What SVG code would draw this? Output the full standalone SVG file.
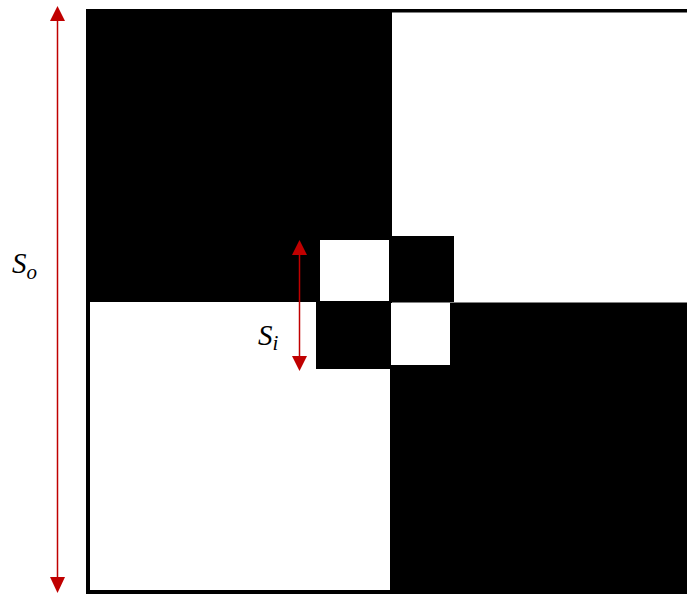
<svg xmlns="http://www.w3.org/2000/svg" width="687" height="595" viewBox="0 0 687 595">
<defs>
<style>
.blk{fill:#000}
.wht{fill:#fff}
.arr{stroke:#c00000;stroke-width:1.5;fill:none}
.head{fill:#c00000}
.lbl{font-family:"Liberation Serif","DejaVu Serif",serif;font-style:italic;fill:#000}
</style>
</defs>
<rect x="0" y="0" width="687" height="595" fill="#fff"/>
<g id="board">
<!-- outer frame -->
<rect x="86" y="9" width="601" height="585" class="blk"/>
<rect id="top-right" x="392" y="12.5" width="295" height="290" class="wht"/>
<rect id="bottom-left" x="90" y="302" width="300" height="288" class="wht"/>
<!-- inner checks -->
<rect id="inner-tl" x="320" y="240" width="69" height="61" class="wht"/>
<rect id="inner-tr" x="389" y="236" width="65" height="66" class="blk"/>
<rect id="inner-bl" x="316" y="301" width="75" height="68" class="blk"/>
<rect id="inner-br" x="391" y="303" width="59" height="62" class="wht"/>
</g>
<g id="connectors">
<line x1="57.5" y1="20" x2="57.5" y2="578" class="arr"/>
<polygon points="57.5,6 50,21 65,21" class="head"/>
<polygon points="57.5,593 50,577 65,577" class="head"/>
<line x1="299.5" y1="254" x2="299.5" y2="357" class="arr"/>
<polygon points="299.5,240 292,255 307,255" class="head"/>
<polygon points="299.5,371 292,356 307,356" class="head"/>
</g>
<g id="label-so">
<text x="12" y="273" class="lbl" font-size="29">S<tspan font-size="21" dy="6">o</tspan></text>
</g>
<g id="label-si">
<text x="258" y="345" class="lbl" font-size="29">S<tspan font-size="21" dy="5">i</tspan></text>
</g>
</svg>
